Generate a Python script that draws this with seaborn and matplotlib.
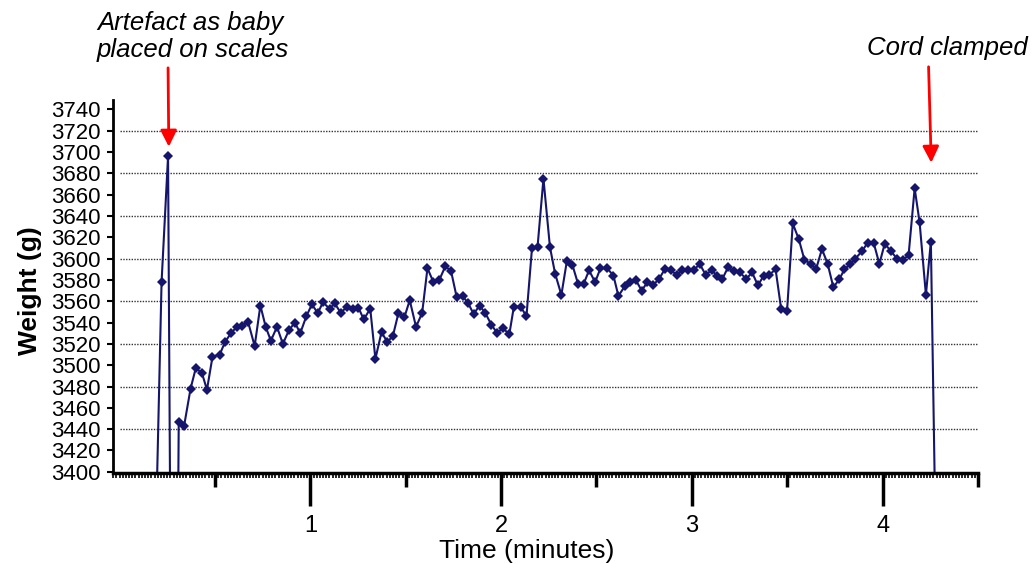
import matplotlib
matplotlib.use("Agg")
import matplotlib.pyplot as plt
from matplotlib.ticker import MultipleLocator
import seaborn as sns

# time in minutes, weight in grams
time_min = [0.187, 0.220, 0.254, 0.284, 0.310, 0.338, 0.372, 0.399, 0.431, 0.458,
            0.487, 0.525, 0.553, 0.584, 0.614, 0.644, 0.673, 0.708, 0.738, 0.766,
            0.793, 0.825, 0.856, 0.888, 0.919, 0.947, 0.979, 1.008, 1.039, 1.066,
            1.101, 1.128, 1.160, 1.191, 1.223, 1.252, 1.280, 1.314, 1.341, 1.373,
            1.403, 1.432, 1.462, 1.493, 1.521, 1.554, 1.586, 1.614, 1.645, 1.676,
            1.708, 1.738, 1.767, 1.798, 1.828, 1.856, 1.887, 1.917, 1.949, 1.980,
            2.008, 2.043, 2.067, 2.102, 2.133, 2.162, 2.191, 2.222, 2.256, 2.283,
            2.316, 2.345, 2.374, 2.404, 2.432, 2.461, 2.493, 2.521, 2.556, 2.589,
            2.615, 2.648, 2.676, 2.706, 2.737, 2.767, 2.796, 2.828, 2.858, 2.889,
            2.920, 2.950, 2.981, 3.009, 3.041, 3.072, 3.104, 3.133, 3.160, 3.190,
            3.220, 3.252, 3.285, 3.316, 3.346, 3.377, 3.407, 3.439, 3.468, 3.499,
            3.529, 3.561, 3.590, 3.622, 3.651, 3.682, 3.712, 3.742, 3.774, 3.800,
            3.831, 3.857, 3.892, 3.922, 3.953, 3.983, 4.011, 4.044, 4.075, 4.105,
            4.136, 4.168, 4.194, 4.227, 4.253, 4.283]
weight_g = [3320, 3578, 3696, 2800, 3447, 3443, 3478, 3497, 3493, 3477,
            3508, 3510, 3522, 3530, 3536, 3537, 3541, 3518, 3556, 3536,
            3523, 3536, 3520, 3533, 3540, 3530, 3546, 3557, 3549, 3559,
            3553, 3558, 3549, 3555, 3553, 3554, 3543, 3553, 3506, 3531,
            3522, 3527, 3549, 3545, 3561, 3536, 3549, 3591, 3578, 3580,
            3593, 3588, 3564, 3565, 3558, 3548, 3556, 3549, 3538, 3530,
            3535, 3529, 3555, 3555, 3546, 3610, 3611, 3675, 3611, 3586,
            3566, 3598, 3594, 3576, 3576, 3589, 3578, 3591, 3591, 3584,
            3565, 3574, 3578, 3580, 3570, 3578, 3575, 3581, 3590, 3589,
            3585, 3589, 3589, 3589, 3595, 3585, 3589, 3584, 3581, 3592,
            3588, 3587, 3581, 3587, 3575, 3584, 3585, 3590, 3553, 3551,
            3633, 3618, 3599, 3595, 3590, 3609, 3595, 3573, 3581, 3590,
            3595, 3600, 3607, 3615, 3615, 3595, 3614, 3607, 3600, 3599,
            3603, 3666, 3634, 3566, 3616, 3280]

y_ticks = list(range(3400, 3741, 20))
grid_vals = list(range(3440, 3721, 40))
x_ticks = [0.5, 1, 1.5, 2, 2.5, 3, 3.5, 4, 4.5]
x_labels = ['', '1', '', '2', '', '3', '', '4', '']

navy = '#15156b'

sns.set_style('white')
plt.rcParams['font.family'] = ['Liberation Sans', 'DejaVu Sans']
plt.rcParams.update({'text.color': 'black', 'axes.labelcolor': 'black',
                     'xtick.color': 'black', 'ytick.color': 'black'})

fig = plt.figure(figsize=(10.36, 5.64), dpi=100)
ax = fig.add_axes([0.109, 0.161, 0.835, 0.662])

ax.hlines(grid_vals, 0, 4.5, colors='#333333', linestyles=(0, (1, 1)), linewidth=1, zorder=0)

sns.lineplot(x=time_min, y=weight_g, ax=ax, color=navy, marker='D', markersize=5.5,
             markeredgewidth=0, linewidth=1.5, sort=False)

ax.set_xlim(-0.035, 4.5)
ax.set_ylim(3398.7, 3749)

for s in ['top', 'right']:
    ax.spines[s].set_visible(False)
ax.spines['bottom'].set_linewidth(2.5)
ax.spines['left'].set_linewidth(2)
ax.spines['bottom'].set_color('black')
ax.spines['left'].set_color('black')

# labels are packed tight, as in the scan, but kept just clear of each other
ax.set_yticks(y_ticks)
ax.tick_params(axis='y', direction='out', length=4, width=1.5, pad=5, labelsize=16, left=True)
ax.set_xticks(x_ticks, labels=x_labels)
ax.xaxis.set_minor_locator(MultipleLocator(1 / 60))
ax.tick_params(axis='x', which='major', direction='out', length=24, width=2.5, pad=6,
               labelsize=17, bottom=True)
ax.tick_params(axis='x', which='minor', direction='out', length=3.5, width=1.2, bottom=True)
for val, tick in zip(x_ticks, ax.xaxis.get_major_ticks()):
    if val % 1:
        tick.tick1line.set_markersize(10)

ax.set_xlabel('Time (minutes)', fontsize=19)
ax.xaxis.set_label_coords(0.4786, -0.177)
ax.set_ylabel('Weight (g)', fontsize=19, fontweight='bold')
ax.yaxis.set_label_coords(-0.082, 0.49)

red_arrow = dict(arrowstyle='-|>,head_length=0.7,head_width=0.35', color='red', lw=2,
                 mutation_scale=14, shrinkA=0, shrinkB=0)
ax.annotate('', xy=(0.258, 3705), xytext=(0.254, 3779), arrowprops=red_arrow,
            annotation_clip=False)
ax.annotate('', xy=(4.255, 3690), xytext=(4.241, 3780), arrowprops=red_arrow,
            annotation_clip=False)

fig.text(97 / 1036, 1 - 30 / 564, 'Artefact as baby', style='italic', fontsize=18.5, va='baseline')
fig.text(97 / 1036, 1 - 57 / 564, 'placed on scales', style='italic', fontsize=18.5, va='baseline')
fig.text(867 / 1036, 1 - 55 / 564, 'Cord clamped', style='italic', fontsize=18.5, va='baseline')

fig.savefig('out.png', dpi=100)
